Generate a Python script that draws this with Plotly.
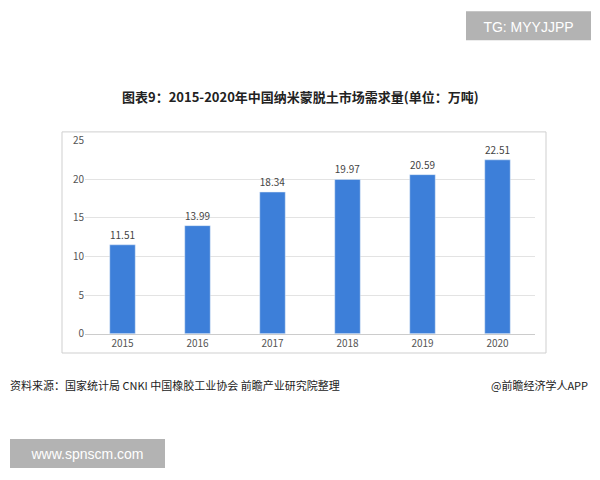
import plotly.graph_objects as go

years = ["2015", "2016", "2017", "2018", "2019", "2020"]
values = [11.51, 13.99, 18.34, 19.97, 20.59, 22.51]
labels = ["11.51", "13.99", "18.34", "19.97", "20.59", "22.51"]

W, H = 584, 464
def px(x): return (x - 8) / W
def py(y): return 1 - (y - 8) / H

fig = go.Figure(go.Bar(x=years, y=values, text=labels, textposition="outside",
                       marker_color="#3d7fd9", width=0.34,
                       textfont=dict(size=10, color="#444"), cliponaxis=False))
fig.update_layout(
    width=W, height=H, paper_bgcolor="white", plot_bgcolor="white",
    margin=dict(l=0, r=0, t=0, b=0), showlegend=False,
    font=dict(family="Noto Sans CJK SC, sans-serif"),
    xaxis=dict(domain=[px(85), px(535)], showline=True, linecolor="#ccc",
               tickfont=dict(size=10, color="#555"), ticks=""),
    yaxis=dict(domain=[py(336), py(136)], range=[0, 25], dtick=5,
               tickfont=dict(size=10, color="#555"), gridcolor="#e3e3e3", zeroline=False),
    shapes=[
        dict(type="rect", xref="paper", yref="paper", x0=px(62), x1=px(546), y0=py(356), y1=py(127),
             line=dict(color="#cfcfcf", width=1)),
        dict(type="rect", xref="paper", yref="paper", x0=px(466), x1=px(591), y0=py(32), y1=py(2),
             fillcolor="#b3b3b3", line=dict(width=0),
             label=dict(text="TG: MYYJJPP", textposition="middle center",
                        font=dict(size=14, color="white", family="Liberation Sans, Arial"))),
        dict(type="rect", xref="paper", yref="paper", x0=px(10), x1=px(165), y0=py(475), y1=py(445),
             fillcolor="#b3b3b3", line=dict(width=0),
             label=dict(text="www.spnscm.com", textposition="middle center",
                        font=dict(size=14, color="white", family="Liberation Sans, Arial"))),
    ],
    annotations=[
        dict(text="<b>图表9：2015-2020年中国纳米蒙脱土市场需求量(单位：万吨)</b>", xref="paper", yref="paper",
             x=px(300), y=py(78), showarrow=False, font=dict(size=13, color="#222")),
        dict(text="资料来源：国家统计局 CNKI 中国橡胶工业协会 前瞻产业研究院整理", xref="paper", yref="paper",
             x=px(8), y=py(400), xanchor="left", showarrow=False, font=dict(size=11, color="#222")),
        dict(text="@前瞻经济学人APP", xref="paper", yref="paper",
             x=px(590), y=py(400), xanchor="right", showarrow=False, font=dict(size=11, color="#222")),
    ],
)
fig.write_html("out.html")
